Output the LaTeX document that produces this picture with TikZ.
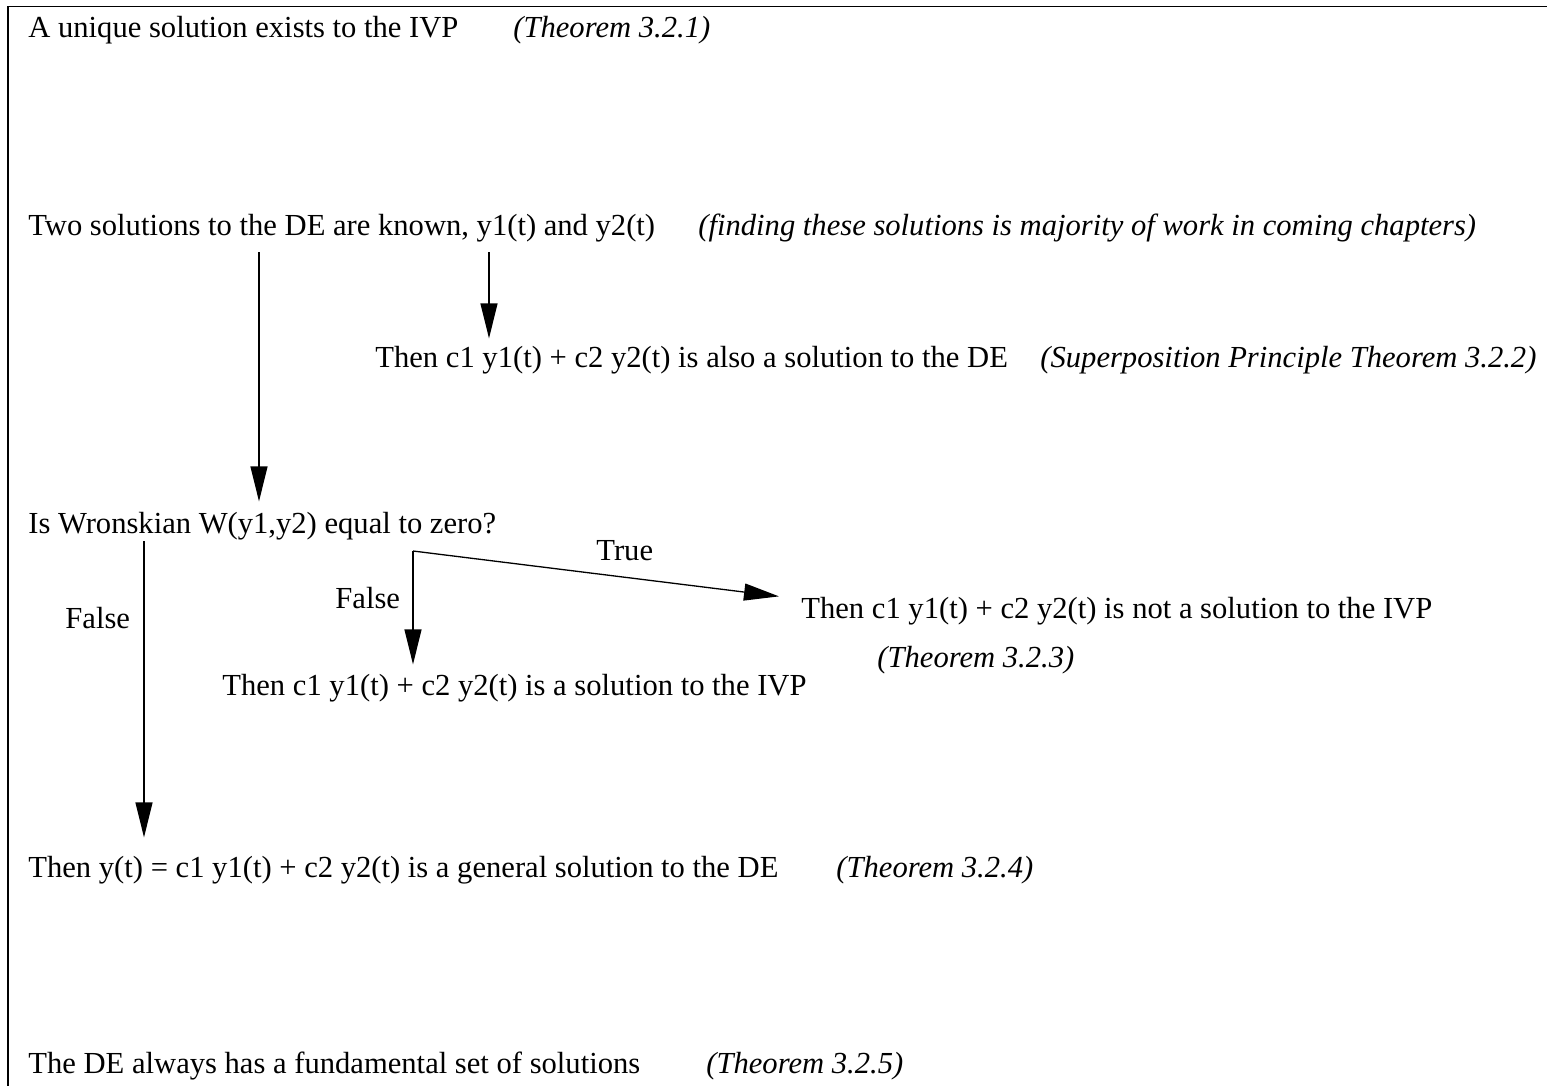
\documentclass[tikz,border=0pt]{standalone}
\usepackage{fontspec}
\setmainfont{Liberation Serif}
\usetikzlibrary{arrows.meta}
\newcommand{\fs}{\fontsize{15.3}{18}\selectfont}
\tikzset{
  txt/.style={anchor=base west,inner sep=0pt,font=\fs},
  note/.style={txt,font=\fs\itshape},
  flow/.style={line width=0.65pt,-{Triangle[length=17.5pt,width=8.5pt]}},
}
\begin{document}
\begin{tikzpicture}[x=0.5pt,y=-0.5pt]
  \useasboundingbox (0,0) rectangle (1547,1086);
  \draw[line width=0.6pt] (8,1086) -- (8,6.5) -- (1547,6.5);
  % statements
  \node[txt] (unique) at (28,38) {A unique solution exists to the IVP};
  \node[note] (uniqueref) at (513,38) {(Theorem 3.2.1)};
  \node[txt] (known) at (28,235) {Two solutions to the DE are known, y1(t) and y2(t)};
  \node[note] (knownref) at (698,235) {(finding these solutions is majority of work in coming chapters)};
  \node[txt] (superpos) at (375,367) {Then c1 y1(t) + c2 y2(t) is also a solution to the DE};
  \node[note] (superposref) at (1040,367) {(Superposition Principle Theorem 3.2.2)};
  \node[txt] (wronsk) at (28,533) {Is Wronskian W(y1,y2) equal to zero?};
  \node[txt] (notsol) at (801,618) {Then c1 y1(t) + c2 y2(t) is not a solution to the IVP};
  \node[note] (notsolref) at (877,667) {(Theorem 3.2.3)};
  \node[txt] (issol) at (222,695) {Then c1 y1(t) + c2 y2(t) is a solution to the IVP};
  \node[txt] (general) at (28,877) {Then y(t) = c1 y1(t) + c2 y2(t) is a general solution to the DE};
  \node[note] (generalref) at (836,877) {(Theorem 3.2.4)};
  \node[txt] (fundset) at (28,1073) {The DE always has a fundamental set of solutions};
  \node[note] (fundsetref) at (706,1073) {(Theorem 3.2.5)};
  % branch labels
  \node[txt] (truelbl) at (596,560) {True};
  \node[txt] (falsemid) at (335,608) {False};
  \node[txt] (falseleft) at (65,628) {False};
  % connectors
  \coordinate (k1) at (259,252);
  \coordinate (k2) at (489,252);
  \coordinate (w1) at (144,541);
  \coordinate (split) at (413,551);
  \draw[flow] (k1) -- ([yshift=5pt]k1 |- wronsk.north);
  \draw[flow] (k2) -- ([yshift=3.5pt]k2 |- superpos.north);
  \draw[flow] (w1) -- ([yshift=9pt]w1 |- general.north);
  \draw[flow] (split) -- ([yshift=4.5pt]split |- issol.north);
  \draw[flow] (split) -- ([xshift=-11pt]notsol.north west);
\end{tikzpicture}
\end{document}
